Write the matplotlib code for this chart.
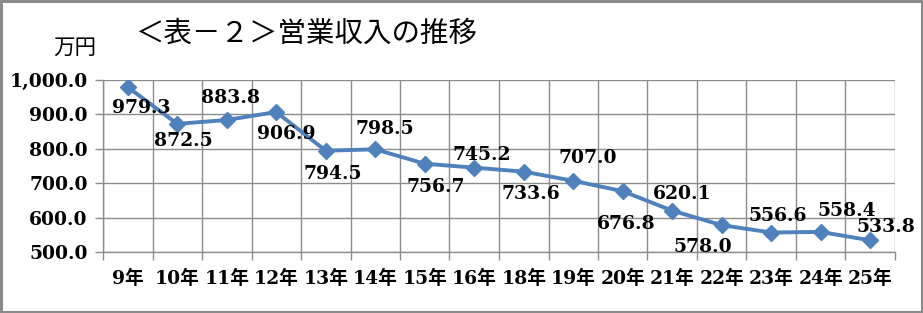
import matplotlib
matplotlib.use('Agg')
import matplotlib.pyplot as plt
from matplotlib.patches import Rectangle
from matplotlib.ticker import FuncFormatter, FixedLocator

# =====================================
# DATA
# =====================================

years = ['9年', '10年', '11年', '12年', '13年', '14年', '15年', '16年',
         '18年', '19年', '20年', '21年', '22年', '23年', '24年', '25年']
revenue = [979.3, 872.5, 883.8, 906.9, 794.5, 798.5, 756.7, 745.2,
           733.6, 707.0, 676.8, 620.1, 578.0, 556.6, 558.4, 533.8]

# label offsets in pixels (dx, dy)
label_offsets = [(14, -21), (6, -17), (4, 22), (10, -22), (7, -23), (10, 20),
                 (11, -23), (8, 13), (7, -22), (14, 23), (3, -33), (10, 17),
                 (-19, -22), (7, 17), (26, 21), (16, 13)]

title = '＜表－２＞営業収入の推移'
unit = '万円'

# =====================================
# STYLE
# =====================================

num_font = ['DejaVu Serif', 'Noto Sans CJK JP']
blue = '#4F81BD'
grid_grey = '#8C8C8C'
W, H = 923, 313

fig = plt.figure(figsize=(W / 100, H / 100), dpi=100)
fig.patch.set_facecolor('white')
fig.add_artist(Rectangle((0.0015, 0.004), 0.997, 0.992, transform=fig.transFigure,
                         fill=False, edgecolor='#8A8A8A', linewidth=2.2))

ax = fig.add_axes([103 / W, 1 - 252 / H, (895 - 103) / W, (252 - 80) / H])

x = list(range(len(years)))
ax.plot(x, revenue, color=blue, linewidth=2.8, marker='D', markersize=8.5,
        markerfacecolor=blue, markeredgecolor=blue, zorder=3)

for xi, v, (dx, dy) in zip(x, revenue, label_offsets):
    ax.annotate(f'{v:.1f}', (xi, v), xytext=(dx, dy), textcoords='offset pixels',
                ha='center', va='center', fontsize=13.5, fontweight='bold',
                family=num_font, color='black', zorder=4)

# =====================================
# AXES
# =====================================

ax.set_xlim(-0.5, len(years) - 0.5)
ax.set_ylim(500, 1000)
ax.set_yticks([500, 600, 700, 800, 900, 1000])
ax.yaxis.set_major_formatter(FuncFormatter(lambda v, p: f'{v:,.1f}'))

ax.set_xticks(x)
ax.set_xticklabels(years)
ax.xaxis.set_minor_locator(FixedLocator([i - 0.5 for i in range(len(years) + 1)]))

ax.tick_params(axis='x', which='major', length=0, pad=13)
ax.tick_params(axis='x', which='minor', length=6, color=grid_grey, width=1)
ax.tick_params(axis='y', length=6, color=grid_grey, width=1, pad=5)

for lab in ax.get_xticklabels() + ax.get_yticklabels():
    lab.set_family(num_font)
    lab.set_fontweight('bold')
    lab.set_fontsize(13.5)

ax.grid(axis='y', which='major', color=grid_grey, linewidth=1)
ax.grid(axis='x', which='minor', color=grid_grey, linewidth=1)
ax.grid(axis='x', which='major', visible=False)
ax.set_axisbelow(True)

for side in ['top', 'right']:
    ax.spines[side].set_visible(False)
for side in ['left', 'bottom']:
    ax.spines[side].set_color(grid_grey)
    ax.spines[side].set_linewidth(1)

# =====================================
# TITLES
# =====================================

fig.text(135 / W, 1 - 34 / H, title, ha='left', va='center', fontsize=20.5,
         family=['Noto Sans CJK JP', 'DejaVu Sans'])
fig.text(75 / W, 1 - 48 / H, unit, ha='center', va='center', fontsize=15.5,
         family=['Noto Sans CJK JP', 'DejaVu Sans'])

fig.savefig('out.png', dpi=100)
